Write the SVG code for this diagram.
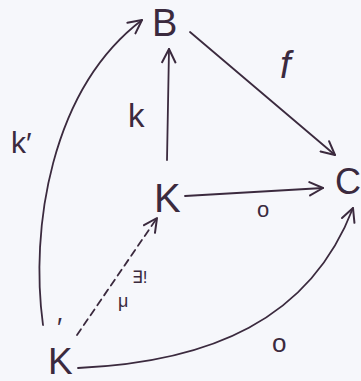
<svg xmlns="http://www.w3.org/2000/svg" width="361" height="381" viewBox="0 0 361 381">
<defs>
<style>
.ink{fill:none;stroke:#3b2a3e;stroke-width:1.8;stroke-linecap:round;stroke-linejoin:round}
.dash{stroke-dasharray:7 5}
.node{font-family:"Liberation Sans","DejaVu Sans",sans-serif;fill:#3b2a3e}
.lbl{font-family:"Liberation Sans","DejaVu Sans",sans-serif;fill:#3b2a3e}
</style>
<marker id="ah" markerUnits="userSpaceOnUse" markerWidth="16" markerHeight="16" viewBox="0 0 12 12" refX="11" refY="6" orient="auto">
<path d="M1,1 L11,6 L1,11" fill="none" stroke="#3b2a3e" stroke-width="1.5" stroke-linecap="round" stroke-linejoin="round"/>
</marker>
</defs>
<rect width="361" height="381" fill="#f6f7fb"/>
<g id="connectors">
<path class="ink" d="M43,325 C30,230 50,90 142,20" marker-end="url(#ah)"/>
<path class="ink" d="M167,160 L169,49" marker-end="url(#ah)"/>
<path class="ink" d="M190,32 L335,155" marker-end="url(#ah)"/>
<path class="ink" d="M185,196 L323,188" marker-end="url(#ah)"/>
<path class="ink" d="M78,368 C210,362 310,320 353,208" marker-end="url(#ah)"/>
<path class="ink dash" d="M77,335 L157,218" marker-end="url(#ah)"/>
</g>
<g id="node-B"><text class="node" x="152" y="36" font-size="38">B</text></g>
<g id="node-C"><text class="node" x="335" y="194" font-size="36">C</text></g>
<g id="node-K"><text class="node" x="154" y="212" font-size="40">K</text></g>
<g id="node-Kp"><text class="node" x="48" y="374" font-size="37">K</text><text class="node" x="57" y="337" font-size="27">′</text></g>
<g id="labels">
<text class="lbl" x="11" y="153" font-size="30">k′</text>
<text class="lbl" x="128" y="127" font-size="33">k</text>
<text class="lbl" x="280" y="78" font-size="38" font-style="italic" font-family="Liberation Serif,serif">f</text>
<text class="lbl" x="257" y="217" font-size="22">o</text>
<text class="lbl" x="272" y="352" font-size="26">o</text>
<text class="lbl" x="132" y="283" font-size="17">∃!</text>
<text class="lbl" x="118" y="307" font-size="18">μ</text>
</g>
</svg>
